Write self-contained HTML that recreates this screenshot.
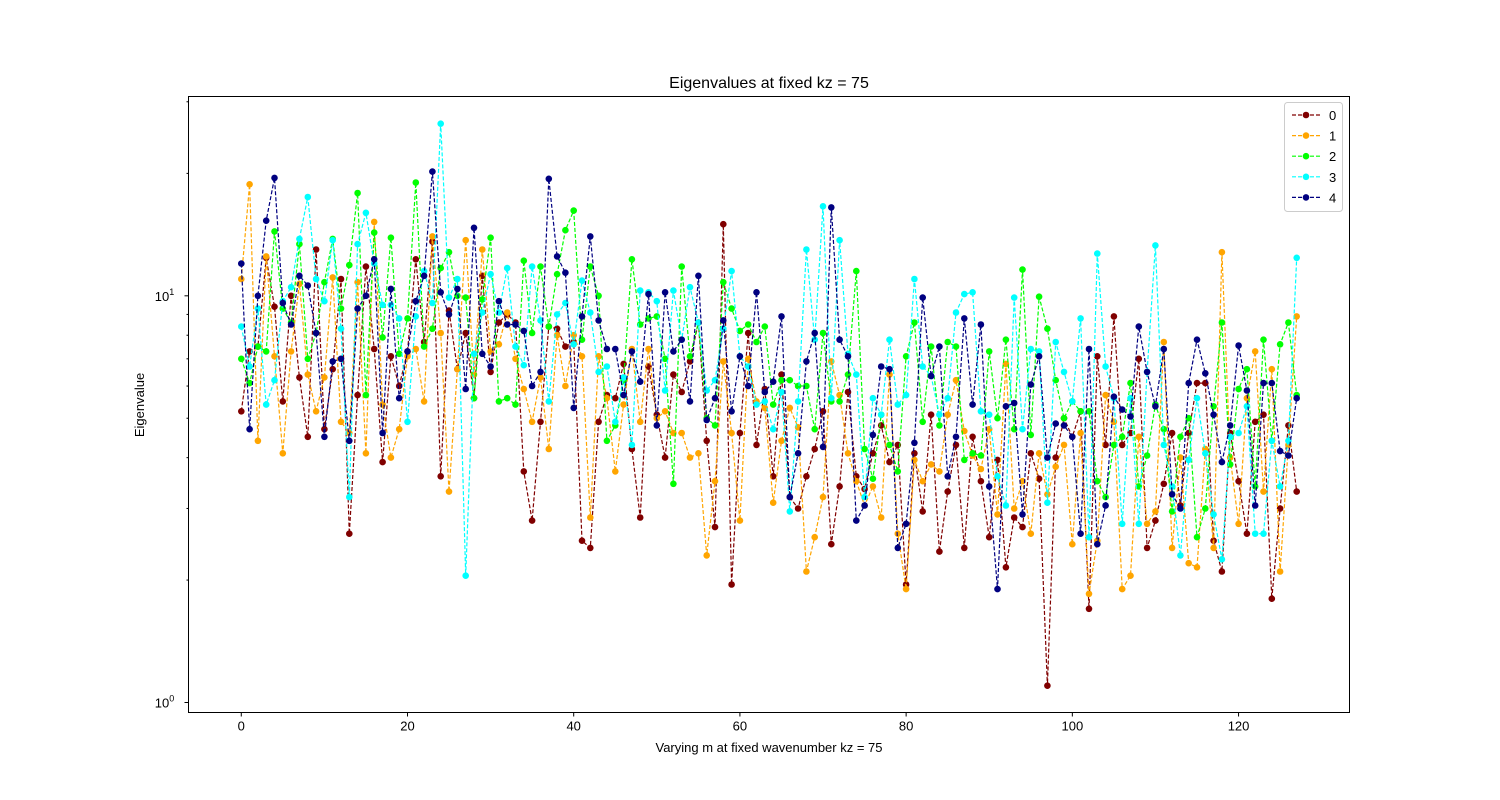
<!DOCTYPE html>
<html><head><meta charset="utf-8"><style>
body{margin:0;background:#fff;}
svg{display:block;font-family:"Liberation Sans","DejaVu Sans",sans-serif;}
</style></head><body>
<svg id="chart" width="1500" height="800" xmlns="http://www.w3.org/2000/svg">
<rect width="1500" height="800" fill="#fff"/>
<text x="769" y="88" font-size="16" text-anchor="middle">Eigenvalues at fixed kz = 75</text>
<text x="769" y="752" font-size="13" text-anchor="middle">Varying m at fixed wavenumber kz = 75</text>
<text transform="translate(144,405) rotate(-90)" font-size="13" text-anchor="middle">Eigenvalue</text>
<g id="plot"></g>
<rect x="188.5" y="96.5" width="1161" height="616" fill="none" stroke="#000" stroke-width="1"/>
<g id="axes"></g>
<g id="legend"></g>
</svg>
<script>
const s0=[5.2,7.3,7.5,12.4,9.4,5.5,10,6.3,4.5,13,4.7,6.6,11,2.6,5.7,11.8,7.4,3.9,7.1,6,7.3,12.3,7.7,13.6,3.6,9.2,6.6,8.1,5.6,11.2,6.5,8.6,9,8.6,3.7,2.8,4.9,8.4,8.3,7.5,7.7,2.5,2.4,4.9,5.7,5.6,6.8,4.2,2.85,6.7,5.1,4,6.4,5.8,6.9,8.6,4.4,2.7,15,1.95,4.6,8.1,4.3,5.9,3.6,6.4,3.2,3,3.6,4.2,5.2,2.45,3.4,5.8,3.6,3.35,4.1,4.8,3.9,4.3,1.95,4.1,2.95,5.1,2.35,3.3,4.3,2.4,4.5,3.5,2.55,3.95,2.15,2.85,2.7,4.1,3.55,1.1,4,5,4.5,5.2,1.7,7.1,4.3,8.9,4.3,4.6,7,2.4,2.8,3.45,4.6,3.05,4.6,6.1,6.1,2.5,2.1,4.6,3.5,2.6,4.9,5.1,1.8,3,4.8,3.3];
const s1=[11,18.8,4.4,12.5,7.1,4.1,7.3,10.7,6.4,5.2,6.3,11.1,4.9,4.6,10.8,4.1,15.2,5.4,4,4.7,7.1,7.4,5.5,14,8.1,3.3,6.6,13.7,6.4,13,7.3,7.6,9.1,7,5.9,4.9,6.3,4.2,8,6,8,7.1,2.85,7.1,5.6,3.7,5.4,7.4,4.9,7.4,5,5.2,4.6,4.6,4,4.1,2.3,3.5,6.9,4.6,2.8,7,5.5,5.3,3.1,4.4,5.3,4.75,2.1,2.55,3.2,6.9,5.7,4.1,3.5,3.05,3.4,2.85,6.4,2.6,1.9,3.95,3.5,3.85,3.7,5.1,6.2,4.65,4.05,3.75,4.7,2.9,6.8,3,3.5,2.6,4.1,3.25,3.8,4.3,2.45,4.6,1.85,2.5,5.7,4.9,1.9,2.05,4.5,2.75,2.95,7.7,2.4,4,2.2,2.15,4.2,2.4,12.8,4,2.75,5.6,7.3,3.3,6.6,2.1,4.3,8.9];
const s2=[7,6.1,7.5,7.3,14.4,9.3,8.6,13.4,7,8.1,10.8,13.8,9.3,11.9,17.9,5.7,14.3,7.9,13.9,7.2,8.8,19,7.5,8.3,11.7,12.8,10,9.9,5.6,9.8,13.9,5.5,5.6,5.4,12.2,8.1,11.8,8.4,11.3,14.5,16.2,7.8,11.8,10,4.4,4.8,6.2,12.3,8.5,8.8,8.9,7,3.45,11.8,7.1,8.6,5,4.8,10.8,9.3,8.2,8.5,7.7,8.4,5.4,6.2,6.2,6,6,4.7,8.1,5.5,5.5,6.4,11.5,4.2,3.55,5.1,4.3,3.7,7.1,8.6,4.9,7.5,4.8,7.7,7.5,3.95,4.1,4.05,7.3,5,7.8,4.7,11.6,4.55,9.95,8.3,6.2,5,5.5,5.2,5.2,3.5,3.2,4.3,4.5,6.1,3.4,4.05,5.4,4.7,2.95,4.5,5,2.55,3,5.35,8.6,3.85,5.9,6.6,3.4,7.8,4.4,7.6,8.6,5.7];
const s3=[8.4,6.7,9.3,5.4,6.2,9.7,10.5,13.8,17.5,11,9.7,13.7,8.3,3.2,13.4,16,12,9.5,9.5,8.8,4.9,8.9,11.5,9.6,26.5,9.9,11,2.05,7.2,9.1,11.3,9.1,11.7,7.5,6.75,11.8,8.7,5.5,9,9.6,7.6,10.9,9.1,6.5,6.7,4.9,6.3,4.3,10.3,10.2,9.7,5.85,10.3,7.8,10.5,8.6,5.85,6.2,8.3,11.5,7.1,6.7,5.4,5.5,4.7,5.8,2.95,5.5,13,7.8,16.6,5.6,13.7,7.2,6.4,3.2,5.6,5.1,7.8,5.4,5.7,11,6.7,6.35,5.1,5.6,9.1,10.1,10.2,5.2,5.1,3.6,3.05,9.9,4.7,7.4,7.3,3.1,7.7,6.5,5.5,8.8,2.55,12.7,6.7,5.6,2.75,5.6,2.75,6.5,13.3,4.3,3.4,2.3,3.95,5.6,4.1,2.9,2.25,4.5,4.6,5.35,2.6,2.6,4.4,3.4,4.4,12.4];
const s4=[12,4.7,10,15.3,19.5,9.6,8.5,11.2,10.6,8.1,4.5,6.9,7,4.4,9.3,10,12.3,4.6,10.4,5.6,7.3,9.7,11.2,20.2,10.2,9,10.4,5.9,14.7,7.2,6.7,9.7,8.5,8.5,8.2,6,6.5,19.4,12.5,11.4,5.3,8.9,14,8.7,7.4,7.4,5.7,7.3,6.15,10.1,4.8,10.2,7.3,7.8,5.5,11.2,4.95,5.6,8.7,5.2,7.1,6,10.2,5.8,6.15,8.9,3.2,4.1,6.9,8.1,4.25,16.5,7.8,7.1,2.8,3.05,4.55,6.7,6.6,2.4,2.75,4.35,9.9,6.35,7.5,3.6,4.5,8.8,5.4,8.5,3.4,1.9,5.35,5.45,2.9,6.05,7.1,4,4.85,4.8,4.5,2.6,7.4,2.45,3.05,5.65,5.25,5.05,8.4,6.5,5.35,7.4,3.25,3,6.1,7.8,6.45,5.1,3.9,4.8,7.55,5.85,3.05,6.1,6.1,4.15,4.05,5.6];
const seriesNames=["0","1","2","3","4"];
const xTicks=[0,20,40,60,80,100,120];
const yMajor=[1,10];

const series=[s0,s1,s2,s3,s4];
const colors=["#800000","#ffa500","#00ff00","#00ffff","#000080"];
const NS="http://www.w3.org/2000/svg";
const L=188.5,R=1349.5,T=96.5,B=712.5;
const xmin=-6.35,xmax=133.35;
const lmin=-0.0246,lmax=1.4901;
function xs(v){return L+(v-xmin)/(xmax-xmin)*(R-L);}
function ys(v){return B-(Math.log10(v)-lmin)/(lmax-lmin)*(B-T);}
function mk(tag,attrs,parent){const e=document.createElementNS(NS,tag);for(const k in attrs)e.setAttribute(k,attrs[k]);parent.appendChild(e);return e;}
const plot=document.getElementById('plot');
series.forEach((s,si)=>{
  const g=mk('g',{},plot);
  
  
  const pts=s.map((v,i)=>xs(i).toFixed(1)+','+ys(v).toFixed(1)).join(' ');
  const pl=mk('polyline',{points:pts,fill:'none',stroke:colors[si],'stroke-width':1.2,'stroke-dasharray':'4,2'},g);
  
  
  s.forEach((v,i)=>{
    const c=mk('circle',{cx:xs(i).toFixed(1),cy:ys(v).toFixed(1),r:3.3,fill:colors[si]},g);
    
    
  });
});
const axes=document.getElementById('axes');
xTicks.forEach(t=>{
  const x=xs(t);
  const tk=mk('line',{x1:x,x2:x,y1:B,y2:B+4,stroke:'#000'},axes);
  
  
  const tx=mk('text',{x:x,y:B+18,'font-size':13,'text-anchor':'middle'},axes);
  tx.textContent=t;
  
  
});
yMajor.forEach(v=>{
  const y=ys(v);
  const tk=mk('line',{x1:L-4,x2:L,y1:y,y2:y,stroke:'#000'},axes);
  
  
  const tx=mk('text',{x:L-24,y:y+5,'font-size':13,'text-anchor':'middle'},axes);
  tx.textContent='10';
  const sup=mk('tspan',{dy:-6,'font-size':9},tx);
  sup.textContent=String(Math.round(Math.log10(v)));
  
  
});
[2,3,4,5,6,7,8,9,20,30].forEach(v=>{
  const y=ys(v);
  const tk=mk('line',{x1:L-2,x2:L,y1:y,y2:y,stroke:'#000'},axes);
  
  
});
const leg=document.getElementById('legend');
const box=mk('rect',{x:1284.5,y:102.5,width:58,height:109,rx:3,fill:'#fff','fill-opacity':0.8,stroke:'#ccc'},leg);


seriesNames.forEach((n,i)=>{
  const y=115+i*20.6;
  const g=mk('g',{},leg);
  
  
  mk('line',{x1:1292,x2:1320,y1:y,y2:y,stroke:colors[i],'stroke-width':1.2,'stroke-dasharray':'4,2'},g);
  mk('circle',{cx:1306,cy:y,r:3.3,fill:colors[i]},g);
  const t=mk('text',{x:1329,y:y+5,'font-size':13},g);
  t.textContent=n;
});
</script>
</body></html>
